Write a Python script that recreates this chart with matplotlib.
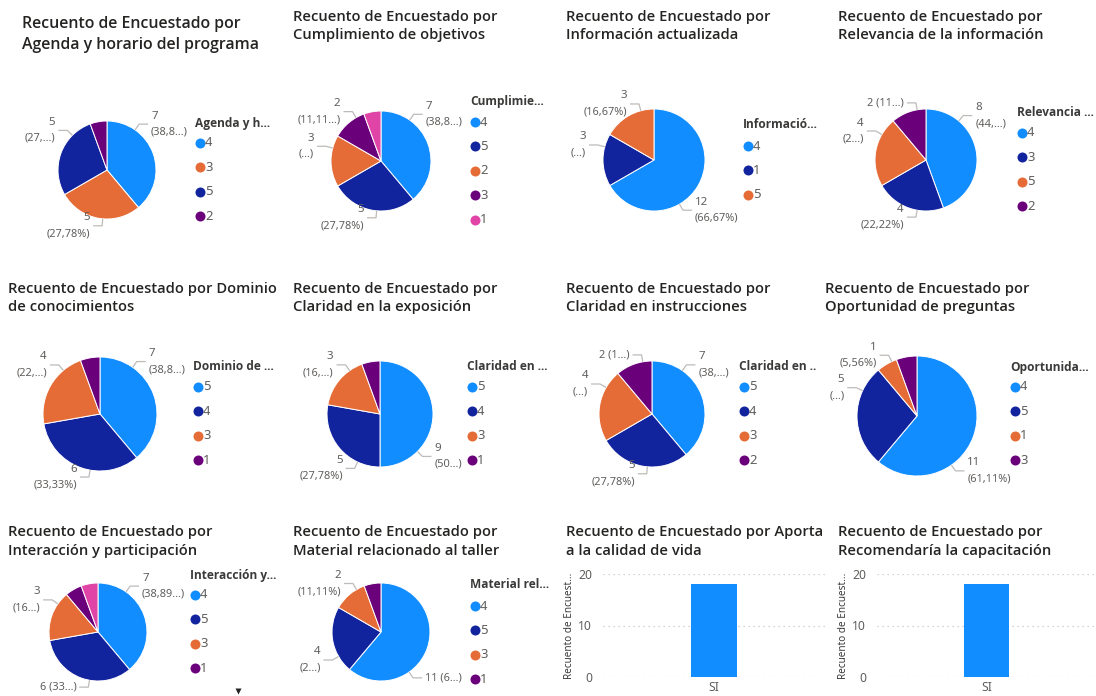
import matplotlib
matplotlib.use("Agg")
import matplotlib.pyplot as plt
import numpy as np

plt.rcParams["font.family"] = ["Noto Sans", "DejaVu Sans"]

W, H = 1096, 696
PALETTE = ["#118DFF", "#12239E", "#E66C37", "#6B007B", "#E044A7"]
TITLE_COLOR = "#252423"
LABEL_COLOR = "#605E5C"
LEADER_COLOR = "#BEBBB8"
TITLE_FONT = ["Open Sans", "Noto Sans", "DejaVu Sans"]

# ---- survey counts (18 respondents) ----
agenda_cats = ["4", "3", "5", "2"]
agenda_counts = [7, 5, 5, 1]
agenda_pct = ["\n(38,8...)", "\n(27,78%)", "\n(27,...)", None]

cumplimiento_cats = ["4", "5", "2", "3", "1"]
cumplimiento_counts = [7, 5, 3, 2, 1]
cumplimiento_pct = ["\n(38,8...)", "\n(27,78%)", "\n(...)", "\n(11,11...)", None]

informacion_cats = ["4", "1", "5"]
informacion_counts = [12, 3, 3]
informacion_pct = ["\n(66,67%)", "\n(...)", "\n(16,67%)"]

relevancia_cats = ["4", "3", "5", "2"]
relevancia_counts = [8, 4, 4, 2]
relevancia_pct = ["\n(44,...)", "\n(22,22%)", "\n(2...)", " (11...)"]

dominio_cats = ["5", "4", "3", "1"]
dominio_counts = [7, 6, 4, 1]
dominio_pct = ["\n(38,8...)", "\n(33,33%)", "\n(22,...)", None]

exposicion_cats = ["5", "4", "3", "1"]
exposicion_counts = [9, 5, 3, 1]
exposicion_pct = ["\n(50...)", "\n(27,78%)", "\n(16,...)", None]

instrucciones_cats = ["5", "4", "3", "2"]
instrucciones_counts = [7, 5, 4, 2]
instrucciones_pct = ["\n(38,...)", "\n(27,78%)", "\n(...)", " (1...)"]

oportunidad_cats = ["4", "5", "1", "3"]
oportunidad_counts = [11, 5, 1, 1]
oportunidad_pct = ["\n(61,11%)", "\n(...)", "\n(5,56%)", None]

interaccion_cats = ["4", "5", "3", "1", "2"]
interaccion_counts = [7, 6, 3, 1, 1]
interaccion_pct = ["\n(38,89...)", " (33...)", "\n(16...)", None, None]

material_cats = ["4", "5", "3", "1"]
material_counts = [11, 4, 2, 1]
material_pct = [" (6...)", "\n(2...)", "\n(11,11%)", None]

aporta_cats = ["SI"]
aporta_counts = [18]
recomendaria_cats = ["SI"]
recomendaria_counts = [18]

titles = [
    "Recuento de Encuestado por\nAgenda y horario del programa",
    "Recuento de Encuestado por\nCumplimiento de objetivos",
    "Recuento de Encuestado por\nInformación actualizada",
    "Recuento de Encuestado por\nRelevancia de la información",
    "Recuento de Encuestado por Dominio\nde conocimientos",
    "Recuento de Encuestado por\nClaridad en la exposición",
    "Recuento de Encuestado por\nClaridad en instrucciones",
    "Recuento de Encuestado por\nOportunidad de preguntas",
    "Recuento de Encuestado por\nInteracción y participación",
    "Recuento de Encuestado por\nMaterial relacionado al taller",
    "Recuento de Encuestado por Aporta\na la calidad de vida",
    "Recuento de Encuestado por\nRecomendaría la capacitación",
]
legend_titles = ["Agenda y h...", "Cumplimie...", "Informació...", "Relevancia ...",
                 "Dominio de ...", "Claridad en ...", "Claridad en ..", "Oportunida...",
                 "Interacción y...", "Material rel..."]
bar_ylabel = "Recuento de Encuest..."

pies = [
    (agenda_cats, agenda_counts, agenda_pct),
    (cumplimiento_cats, cumplimiento_counts, cumplimiento_pct),
    (informacion_cats, informacion_counts, informacion_pct),
    (relevancia_cats, relevancia_counts, relevancia_pct),
    (dominio_cats, dominio_counts, dominio_pct),
    (exposicion_cats, exposicion_counts, exposicion_pct),
    (instrucciones_cats, instrucciones_counts, instrucciones_pct),
    (oportunidad_cats, oportunidad_counts, oportunidad_pct),
    (interaccion_cats, interaccion_counts, interaccion_pct),
    (material_cats, material_counts, material_pct),
]
bars = [(aporta_cats, aporta_counts), (recomendaria_cats, recomendaria_counts)]

# ---- layout and styling (pixels, origin top-left) ----
title_pos = [(22, 24, 45, 1.08), (293, 17, 35, 1), (566, 17, 35, 1), (838, 17, 35, 1),
             (8, 289, 307, 1), (293, 289, 307, 1), (566, 289, 307, 1), (825, 289, 307, 1),
             (8, 532, 551, 1), (293, 532, 551, 1), (566, 532, 551, 1), (838, 532, 551, 1)]
pie_geom = [(107, 170, 49), (381, 161, 50), (654, 160, 51), (926, 160, 51),
            (100, 414, 57), (380, 414, 53), (652, 414, 53), (917, 416, 60),
            (98, 632, 49), (381, 632, 49)]
# palette slot used by each category, in legend order
color_slots = [[0, 2, 1, 3], None, None, None, None, None, None, None, None, None]
legend_geom = [(195, 123, 143), (470, 102, 122), (743, 124, 146), (1017, 112, 133),
               (193, 367, 387), (467, 367, 387), (739, 367, 387), (1010, 367, 387),
               (190, 575, 595), (470, 585, 606)]
legend_step = 24.4
legend_max = [5, 5, 5, 5, 5, 5, 5, 5, 4, 5]
bar_boxes = [(603, 574, 825, 677), (877, 574, 1096, 677)]

fig = plt.figure(figsize=(W / 100, H / 100), dpi=100)
fig.patch.set_facecolor("white")
ax = fig.add_axes([0, 0, 1, 1])


def Y(y):
    return H - y


def leader_angle(t1, t2):
    """Clockwise-from-top angle where the leader line leaves the slice."""
    mid = 0.5 * (t1 + t2)
    if np.cos(np.radians(mid)) > 1e-9:
        d = (mid + 180) % 360 - 180
        a = 0.5 * d
    else:
        a = 180 + 0.5 * (mid - 180)
    a = mid + ((a - mid + 180) % 360 - 180)
    span = t2 - t1
    return float(np.clip(a, t1 + 0.25 * span, t2 - 0.25 * span))


# titles
for (tx, y1, y2, sc), t in zip(title_pos, titles):
    l1, l2 = t.split("\n")
    for yy, line in ((y1, l1), (y2, l2)):
        ax.text(tx, Y(yy), line, ha="left", va="center", fontsize=10.6 * sc,
                color=TITLE_COLOR, family=TITLE_FONT, fontweight=600)

# pies
for (cats, counts, pcts), (cx, cy, r), (lx, lty, liy), lmax, ltitle, slots in zip(
        pies, pie_geom, legend_geom, legend_max, legend_titles, color_slots):
    if slots is None:
        slots = range(len(counts))
    colors = [PALETTE[s] for s in slots]
    wedges, _ = ax.pie(counts, colors=colors, startangle=90, counterclock=False,
                       center=(cx, Y(cy)), radius=r,
                       wedgeprops=dict(edgecolor="white", linewidth=0.7))
    for w, v, p in zip(wedges, counts, pcts):
        if p is None:
            continue
        # wedge angles in clockwise-from-top convention
        t1 = 90 - w.theta2
        t2 = 90 - w.theta1
        a = np.radians(leader_angle(t1, t2))
        sx, sy = np.sin(a), np.cos(a)
        p0 = (cx + r * sx, cy - r * sy)
        p1 = (cx + (r + 7) * sx, cy - (r + 7) * sy)
        side = 1 if sx > 1e-6 else -1
        p2 = (p1[0] + side * 9, p1[1])
        ax.plot([p0[0], p1[0], p2[0]], [Y(p0[1]), Y(p1[1]), Y(p2[1])],
                color=LEADER_COLOR, lw=0.9, solid_capstyle="butt")
        ha = "left" if side > 0 else "right"
        tx = p2[0] + side * 3
        if p.startswith("\n"):
            ax.text(tx, Y(p2[1] - 8), str(v), ha=ha, va="center", fontsize=8.3,
                    color=LABEL_COLOR)
            ax.text(tx, Y(p2[1] + 8), p[1:], ha=ha, va="center", fontsize=7.9,
                    color=LABEL_COLOR)
        else:
            ax.text(tx, Y(p2[1]), str(v) + p, ha=ha, va="center", fontsize=7.9,
                    color=LABEL_COLOR)
    # legend
    ax.text(lx, Y(lty), ltitle, ha="left", va="center", fontsize=8.6,
            fontweight="bold", family=TITLE_FONT, color="#3B3A39")
    for i, (c, col) in enumerate(zip(cats[:lmax], colors)):
        yy = liy + i * legend_step
        ax.plot([lx + 5], [Y(yy)], marker="o", ms=7.2, color=col, mec="none")
        ax.text(lx + 10, Y(yy), c, ha="left", va="center", fontsize=9.4,
                color=LABEL_COLOR)
    if len(cats) > lmax:
        ax.plot([lx + 48], [Y(liy + lmax * legend_step - 2)], marker="v", ms=5,
                color="#252423", mec="none")

ax.set_xlim(0, W)
ax.set_ylim(0, H)
ax.axis("off")

# bar charts
for (cats, counts), (x0, y0, x1, y1) in zip(bars, bar_boxes):
    bax = fig.add_axes([x0 / W, (H - y1) / H, (x1 - x0) / W, (y1 - y0) / H])
    bax.bar(cats, counts, width=0.21, color=PALETTE[0])
    bax.set_xlim(-0.5, 0.5)
    bax.set_ylim(0, 20)
    bax.set_yticks([0, 10, 20])
    bax.yaxis.grid(True, color="#C8C6C4", linestyle=(0, (1, 3)), linewidth=0.9)
    bax.set_axisbelow(True)
    for s in bax.spines.values():
        s.set_visible(False)
    bax.tick_params(axis="both", length=0, colors=LABEL_COLOR, labelsize=8.8)
    bax.tick_params(axis="y", pad=8)
    bax.tick_params(axis="x", pad=3)
    bax.set_ylabel(bar_ylabel, fontsize=7.2, color="#3B3A39", labelpad=2)

fig.savefig("out.png", dpi=100, facecolor="white")
